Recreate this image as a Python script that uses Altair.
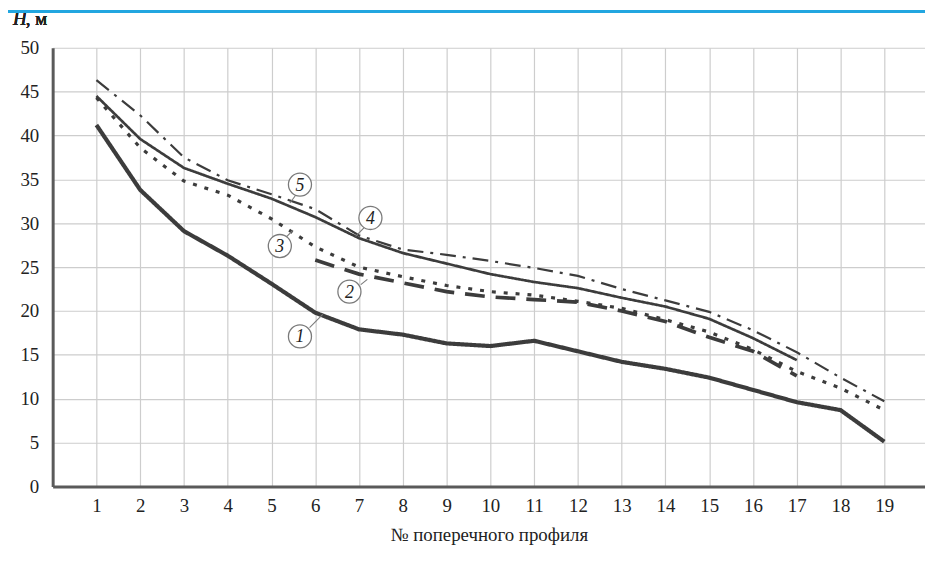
import altair as alt
import pandas as pd

# ---- data ----
profiles = list(range(1, 20))
h1 = [41.2, 33.8, 29.1, 26.3, 23.1, 19.8, 17.9, 17.3, 16.3, 16.0, 16.6, 15.4, 14.2, 13.4, 12.4, 11.0, 9.6, 8.7, 5.1]
h2 = [None, None, None, None, None, 25.8, 24.2, 23.2, 22.2, 21.6, 21.3, 21.0, 20.0, 18.8, 17.0, 15.4, 12.6, None, None]
h3 = [44.3, 38.6, 34.8, 33.2, 30.5, 27.3, 25.0, 23.9, 22.9, 22.2, 21.8, 21.1, 20.3, 19.0, 17.6, 15.6, 13.1, 11.2, 8.7]
h4 = [44.5, 39.6, 36.3, 34.5, 32.8, 30.7, 28.3, 26.6, 25.4, 24.2, 23.3, 22.6, 21.5, 20.5, 19.1, 16.9, 14.4, None, None]
h5 = [46.3, 42.3, 37.5, 34.9, 33.3, 31.6, 28.6, 27.0, 26.4, 25.7, 24.9, 24.0, 22.5, 21.2, 19.9, 17.8, 15.3, 12.4, 9.7]
series_names = ["1", "2", "3", "4", "5"]

y_ticks = [0, 5, 10, 15, 20, 25, 30, 35, 40, 45, 50]
x_ticks = profiles

# circled labels (centre) and leader lines
label_text = ["1", "2", "3", "4", "5"]
label_x = [5.65, 6.78, 5.19, 7.26, 5.65]
label_y = [17.1, 22.2, 27.4, 30.6, 34.4]
leader_x1 = [5.87, 7.04, 5.33, 7.14, 5.54]
leader_y1 = [18.1, 23.0, 28.4, 29.6, 33.1]
leader_x2 = [6.17, 7.19, 5.49, 6.92, 5.42]
leader_y2 = [19.6, 23.6, 29.2, 28.5, 32.3]

x_title = "№ поперечного профиля"

# ---- build tables ----
rows = []
for name, vals in zip(series_names, [h1, h2, h3, h4, h5]):
    for p, v in zip(profiles, vals):
        if v is not None:
            rows.append({"profile": p, "H": v, "series": name})
lines_df = pd.DataFrame(rows)

labels_df = pd.DataFrame({"t": label_text, "x": label_x, "y": label_y})
leaders_df = pd.DataFrame({"x1": leader_x1, "y1": leader_y1, "x2": leader_x2, "y2": leader_y2})

FONT = "Times New Roman, Liberation Serif, serif"
LINE = "#3c3c3c"

xscale = alt.Scale(domain=[0, 19.93], nice=False, zero=False)
yscale = alt.Scale(domain=[0, 50], nice=False)

lines = alt.Chart(lines_df).mark_line(color=LINE, clip=False).encode(
    x=alt.X("profile:Q", scale=xscale,
            axis=alt.Axis(values=x_ticks, title=x_title, grid=True, tickSize=0,
                          labelPadding=10, titlePadding=11, format="d")),
    y=alt.Y("H:Q", scale=yscale,
            axis=alt.Axis(values=y_ticks, title=None, grid=True, tickSize=0,
                          labelPadding=14, format="d")),
    detail="series:N",
    strokeDash=alt.StrokeDash("series:N", legend=None,
                              scale=alt.Scale(domain=series_names,
                                              range=[[1, 0], [20, 11], [4, 8], [1, 0], [16, 7, 3, 7]])),
    strokeWidth=alt.StrokeWidth("series:N", legend=None,
                                scale=alt.Scale(domain=series_names, range=[4.2, 2.2, 2.6, 1.8, 2.2])),
)

leaders = alt.Chart(leaders_df).mark_rule(color="#7a7a7a", strokeWidth=1.1).encode(
    x="x1:Q", y="y1:Q", x2="x2:Q", y2="y2:Q"
)

circles = alt.Chart(labels_df).mark_point(
    shape="circle", size=540, filled=True, fill="white", stroke="#7a7a7a", strokeWidth=1.3, opacity=1
).encode(x="x:Q", y="y:Q")

texts = alt.Chart(labels_df).mark_text(
    font=FONT, fontStyle="italic", fontSize=18, color="#222222", baseline="middle", align="center", dy=1
).encode(x="x:Q", y="y:Q", text="t:N")

h_label = alt.Chart(labels_df).mark_text(
    font=FONT, fontStyle="italic", fontSize=19, color="#222222", align="left", baseline="middle"
).encode(x=alt.value(-40), y=alt.value(-29), text=alt.value("H"))

h_unit = alt.Chart(labels_df).mark_text(
    font=FONT, fontSize=19, color="#222222", align="left", baseline="middle"
).encode(x=alt.value(-27), y=alt.value(-29), text=alt.value(", м"))

blue = alt.Chart(labels_df).mark_rule(color="#22a6e0", strokeWidth=3).encode(
    x=alt.value(-45), x2=alt.value(879), y=alt.value(-36.5)
)

chart = alt.layer(lines, leaders, circles, texts, h_label, h_unit, blue).properties(
    width=879, height=442,
    autosize="none",
    padding={"left": 45, "top": 38, "right": 0, "bottom": 62},
    background="white",
).configure_view(strokeWidth=0).configure_axis(
    labelFont=FONT, titleFont=FONT, labelFontSize=19, titleFontSize=19,
    labelColor="#222222", titleColor="#222222", titleFontWeight="normal",
    gridColor="#cdcdcd", gridWidth=1.2,
    domainColor="#5a5a5a", domainWidth=3,
).configure_text(font=FONT)

chart.save("out.html", embed_options={"renderer": "svg", "actions": False})
